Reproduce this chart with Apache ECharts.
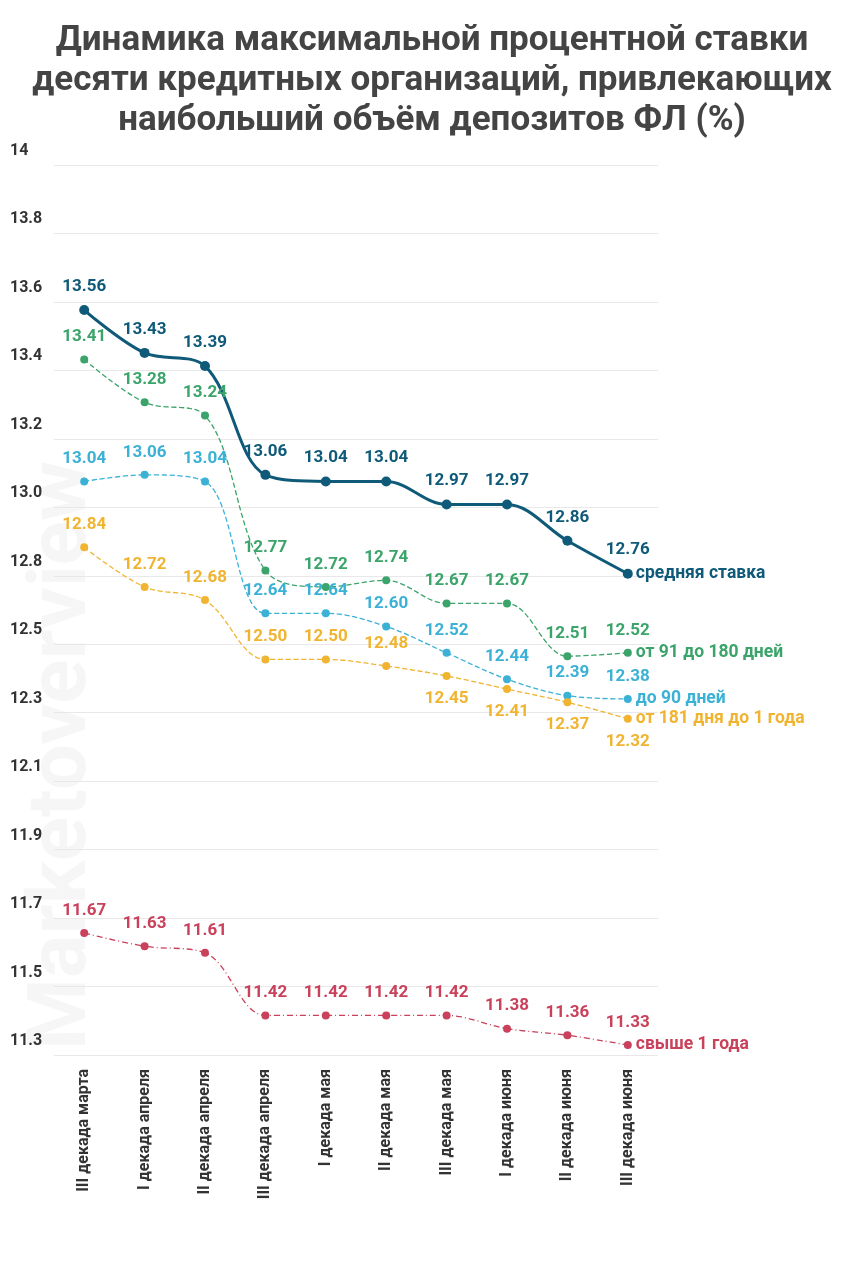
<!DOCTYPE html>
<html><head><meta charset="utf-8">
<script src="https://cdn.jsdelivr.net/npm/echarts@6/dist/echarts.min.js"></script>
<style>html,body{margin:0;background:#fff}#c{width:864px;height:1280px}</style>
</head><body><div id="c"></div>
<script>
const categories=['III декада марта','I декада апреля','II декада апреля','III декада апреля','I декада мая','II декада мая','III декада мая','I декада июня','II декада июня','III декада июня'];
const avgRate=[13.56,13.43,13.39,13.06,13.04,13.04,12.97,12.97,12.86,12.76];
const d91_180=[13.41,13.28,13.24,12.77,12.72,12.74,12.67,12.67,12.51,12.52];
const d90=[13.04,13.06,13.04,12.64,12.64,12.60,12.52,12.44,12.39,12.38];
const d181_1y=[12.84,12.72,12.68,12.50,12.50,12.48,12.45,12.41,12.37,12.32];
const over1y=[11.67,11.63,11.61,11.42,11.42,11.42,11.42,11.38,11.36,11.33];
const orangeBelow=[0,0,0,0,0,0,1,1,1,1];

function mk(name,data,color,width,type,smooth,below){
  return {name,type:'line',data:data.map((v,i)=>({value:v,label:{position:below&&below[i]?'bottom':'top'}})),
    smooth,symbol:'circle',symbolSize:width>2?10:8,
    lineStyle:{color,width,type},itemStyle:{color},
    label:{show:true,color,fontWeight:'bold',fontSize:17,fontFamily:'Roboto',distance:10,formatter:p=>p.value.toFixed(2)},
    endLabel:{show:true,color,fontWeight:'bold',fontSize:17.5,fontFamily:'Roboto',formatter:name,distance:8}};
}
const ch=echarts.init(document.getElementById('c'));
ch.setOption({
  animation:false,
  title:{text:'Динамика максимальной процентной ставки\nдесяти кредитных организаций, привлекающих\nнаибольший объём депозитов ФЛ (%)',left:'center',top:16,
    textStyle:{fontSize:35,fontWeight:'bold',color:'#444',fontFamily:'Roboto',lineHeight:40}},
  graphic:[{type:'text',x:105,y:1050,rotation:Math.PI/2,style:{text:'Marketoverview',fontSize:82,fontWeight:'bold',fill:'rgba(0,0,0,0.035)',fontFamily:'Roboto',textAlign:'left',textVerticalAlign:'bottom'}}],
  grid:{left:54,right:206,top:165,bottom:225},
  xAxis:{type:'category',data:categories,boundaryGap:true,
    axisLine:{show:false},axisTick:{show:false},
    axisLabel:{rotate:90,interval:0,fontSize:16,fontWeight:'bold',color:'#333',fontFamily:'Roboto',margin:14}},
  yAxis:{type:'value',min:11.3,max:14,interval:2.7/13,
    axisLabel:{margin:0,align:'left',verticalAlign:'bottom',padding:[0,0,6,-44],fontSize:16,fontWeight:'bold',color:'#333',fontFamily:'Roboto',
      formatter:v=>v>13.99?'14':v.toFixed(1)},
    splitLine:{lineStyle:{color:'#e8e8e8'}}},
  series:[
    mk('средняя ставка',avgRate,'#0e5a78',3,'solid',0.35),
    mk('от 91 до 180 дней',d91_180,'#3aa46a',1.3,'dashed',0.35),
    mk('до 90 дней',d90,'#3bb1d6',1.3,'dashed',0.35),
    mk('от 181 дня до 1 года',d181_1y,'#f0b431',1.3,'dashed',0.35,orangeBelow),
    mk('свыше 1 года',over1y,'#c9415a',1.3,[6,3,1,3],0.35)
  ]
});
</script></body></html>
